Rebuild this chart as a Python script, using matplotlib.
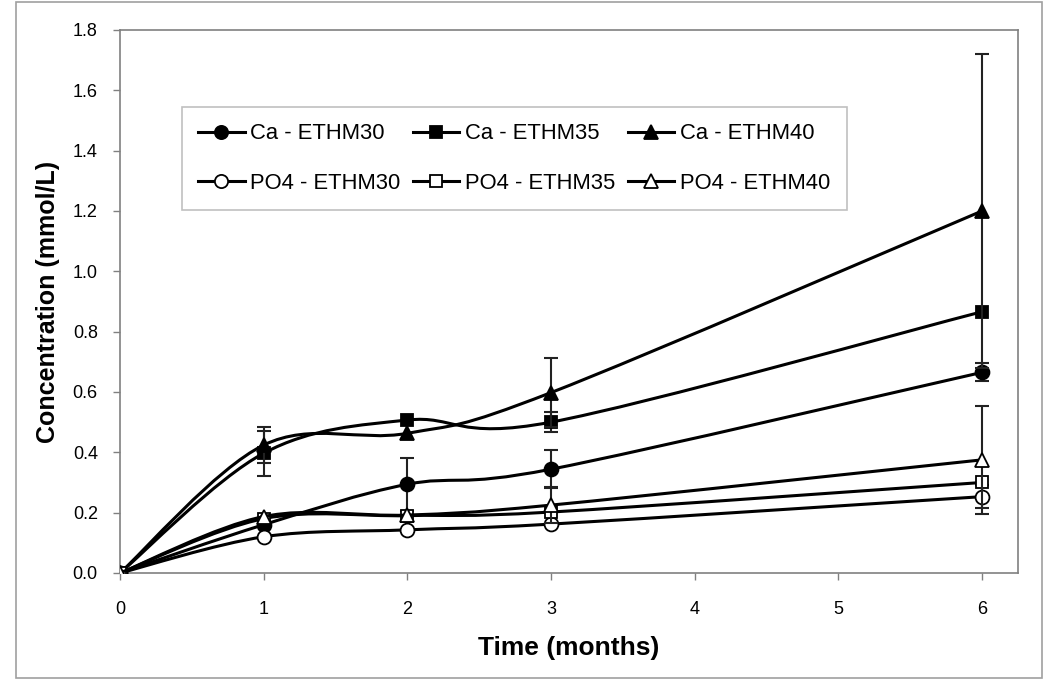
import numpy as np
import matplotlib.pyplot as plt
from matplotlib.path import Path
from matplotlib.patches import PathPatch, Rectangle
from matplotlib.lines import Line2D

plt.rcParams['font.family'] = ['Liberation Sans', 'DejaVu Sans']

# sampling times (months)
months = [0, 1, 2, 3, 6]
xticks = [0, 1, 2, 3, 4, 5, 6]

# concentrations (mmol/L) and error bars
ca30 = [0.0, 0.160, 0.294, 0.344, 0.665]
ca30_err = [0, 0, 0.088, 0.062, 0.030]
ca35 = [0.0, 0.397, 0.507, 0.500, 0.866]
ca35_err = [0, 0.075, 0, 0.033, 0]
ca40 = [0.0, 0.424, 0.463, 0.598, 1.200]
ca40_err = [0, 0.060, 0, 0.115, 0.520]
po30 = [0.0, 0.120, 0.143, 0.162, 0.253]
po30_err = [0, 0, 0, 0, 0.037]
po35 = [0.0, 0.180, 0.190, 0.202, 0.300]
po35_err = [0, 0, 0, 0, 0]
po40 = [0.0, 0.187, 0.192, 0.225, 0.375]
po40_err = [0, 0, 0, 0.060, 0.180]

labels = ['Ca - ETHM30', 'Ca - ETHM35', 'Ca - ETHM40',
          'PO4 - ETHM30', 'PO4 - ETHM35', 'PO4 - ETHM40']
series = [ca30, ca35, ca40, po30, po35, po40]
errors = [ca30_err, ca35_err, ca40_err, po30_err, po35_err, po40_err]
markers = ['o', 's', '^', 'o', 's', '^']
fills = ['black', 'black', 'black', 'white', 'white', 'white']


def smooth_path(xs, ys):
    # excel-like smoothed line drawn as cubic bezier segments
    p = np.column_stack([xs, ys]).astype(float)
    n = len(p)
    verts = [p[0]]
    codes = [Path.MOVETO]
    for i in range(n - 1):
        prev = p[max(i - 1, 0)]
        nxt = p[min(i + 2, n - 1)]
        c1 = p[i] + (p[i + 1] - prev) / 6.0
        c2 = p[i + 1] - (nxt - p[i]) / 6.0
        verts += [c1, c2, p[i + 1]]
        codes += [Path.CURVE4] * 3
    return Path(verts, codes)


fig = plt.figure(figsize=(10.5, 6.89), dpi=100, facecolor='w')
ax = fig.add_axes([0.1143, 0.1684, 0.8552, 0.7881])

handles = []
for k in range(6):
    z = 3 + k
    ax.add_patch(PathPatch(smooth_path(months, series[k]), fill=False,
                           edgecolor='black', lw=2.2, zorder=z))
    idx = [i for i in range(5) if errors[k][i] > 0]
    if idx:
        ax.errorbar([months[i] for i in idx], [series[k][i] for i in idx],
                    yerr=[errors[k][i] for i in idx], fmt='none',
                    ecolor='#222222', elinewidth=1.5, capsize=5, capthick=1.5,
                    zorder=z)
    ax.plot(months, series[k], linestyle='none', marker=markers[k],
            ms=10 if markers[k] != 's' else 9, mfc=fills[k], mec='black',
            mew=1.3, zorder=z + 0.5)
    handles.append(Line2D([], [], color='black', lw=2.2, marker=markers[k],
                          ms=9.5 if markers[k] != 's' else 8.5, mfc=fills[k],
                          mec='black', mew=1.3))

ax.set_xlim(0, 6.25)
ax.set_ylim(0, 1.8)
ax.set_xticks(xticks)
ax.set_xticklabels([str(t) for t in xticks])
ax.set_yticks(np.arange(0, 1.81, 0.2))
ax.set_yticklabels(['%.1f' % v for v in np.arange(0, 1.81, 0.2)])
ax.tick_params(axis='both', labelsize=13, color='#808080', length=5,
               width=1, direction='out')
ax.tick_params(axis='x', pad=15)
ax.tick_params(axis='y', pad=11)
for s in ax.spines.values():
    s.set_color('#808080')
    s.set_linewidth(1.2)

ax.set_xlabel('Time (months)', fontsize=19, fontweight='bold', labelpad=13)
ax.set_ylabel('Concentration (mmol/L)', fontsize=18, fontweight='bold',
              labelpad=9)

# legend: columnwise order so Ca on top row, PO4 on bottom row
order = [0, 3, 1, 4, 2, 5]
leg = fig.legend([handles[i] for i in order], [labels[i] for i in order],
                 ncol=3, loc='upper left', bbox_to_anchor=(0.1733, 0.845),
                 bbox_transform=fig.transFigure, fontsize=15.8, frameon=True,
                 fancybox=False, edgecolor='#b0b0b0', handlelength=2.1,
                 handletextpad=0.25, columnspacing=0.6, labelspacing=1.3,
                 borderpad=0.75, borderaxespad=0)
leg.get_frame().set_linewidth(1.2)

# outer chart border
fig.patches.append(Rectangle((0.015, 0.016), 0.977, 0.981, transform=fig.transFigure,
                             fill=False, edgecolor='#a0a0a0', lw=1.2))

fig.savefig('out.png', dpi=100)
